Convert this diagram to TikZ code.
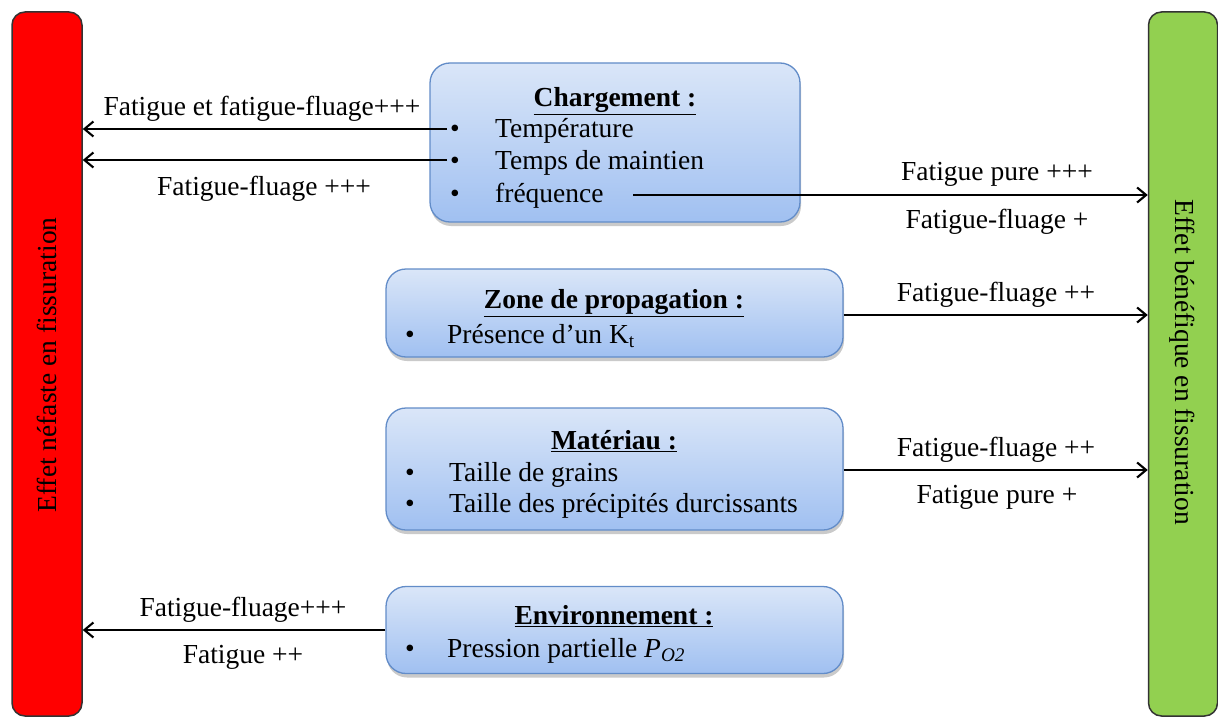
\documentclass[tikz,border=0pt]{standalone}
\usepackage{fontspec}
\setmainfont{Liberation Serif}
\usetikzlibrary{arrows.meta,shadows,positioning}
\definecolor{boxtop}{RGB}{218,230,248}
\definecolor{boxbot}{RGB}{160,192,241}
\definecolor{boxline}{RGB}{98,140,200}
\definecolor{barred}{RGB}{255,0,0}
\definecolor{bargreen}{RGB}{146,208,80}
\tikzset{
  txt/.style={font=\fontsize{27.5}{33}\selectfont, inner sep=0pt},
  infobox/.style={draw=boxline, line width=1.3pt, rounded corners=20pt,
    top color=boxtop, bottom color=boxbot,
    drop shadow={shadow xshift=1pt, shadow yshift=-4pt, opacity=0.35, fill=black!60},
    inner sep=0pt},
  bar/.style={draw=black!80, line width=1.5pt, rounded corners=13pt, inner sep=0pt},
  conn/.style={line width=2.1pt, -{Straight Barb[length=9pt,width=15pt,line width=2.1pt]}},
}
\begin{document}
\begin{tikzpicture}[x=1pt,y=-1pt]
\useasboundingbox (0,0) rectangle (1218,717);
% side bars
\node[bar, fill=barred, minimum width=70pt, minimum height=704pt] (red) at (47,364) {};
\node[bar, fill=bargreen, minimum width=69pt, minimum height=704pt] (green) at (1183,364) {};
\node[txt, rotate=90] (redtxt) at (47,365) {Effet néfaste en fissuration};
\node[txt, rotate=-90] (greentxt) at (1182,362) {Effet bénéfique en fissuration};
% boxes
\node[infobox, minimum width=370pt, minimum height=159pt] (charg) at (615,142.5) {};
\node[infobox, minimum width=457pt, minimum height=88pt] (zone) at (614.5,313) {};
\node[infobox, minimum width=457pt, minimum height=122pt] (mat) at (614.5,469) {};
\node[infobox, minimum width=457pt, minimum height=87pt] (env) at (614.5,630) {};
\begin{scope}[yshift=-6pt]
% Chargement texts
\node[txt, anchor=mid] (chtitle) at (615,98) {\underline{\textbf{Chargement :}}};
\node[txt, anchor=mid] (b1) at (455,129) {•};
\node[txt, anchor=mid] (b2) at (455,161) {•};
\node[txt, anchor=mid] (b3) at (455,194) {•};
\node[txt, anchor=mid west] (t1) at (495,129) {Température};
\node[txt, anchor=mid west] (t2) at (495,161) {Temps de maintien};
\node[txt, anchor=mid west] (t3) at (495,194) {fréquence};
% Zone
\node[txt, anchor=mid] (zotitle) at (614,300) {\underline{\textbf{Zone de propagation :}}};
\node[txt, anchor=mid] (zb1) at (410,335) {•};
\node[txt, anchor=mid west] (zt1) at (447,335) {Présence d’un K\textsubscript{t}};
% Materiau
\node[txt, anchor=mid] (mattitle) at (614,441) {\underline{\textbf{Matériau :}}};
\node[txt, anchor=mid] (mb1) at (410,473) {•};
\node[txt, anchor=mid] (mb2) at (410,504) {•};
\node[txt, anchor=mid west] (mt1) at (449,473) {Taille de grains};
\node[txt, anchor=mid west] (mt2) at (449,504) {Taille des précipités durcissants};
% Environnement
\node[txt, anchor=mid] (envtitle) at (614,616) {\underline{\textbf{Environnement :}}};
\node[txt, anchor=mid] (eb1) at (410,649) {•};
\node[txt, anchor=mid west] (et1) at (447,649) {Pression partielle \textit{P}\textsubscript{\textit{O2}}};
% labels
\node[txt, anchor=mid] (l1) at (262,107) {Fatigue et fatigue-fluage+++};
\node[txt, anchor=mid] (l2) at (264,187) {Fatigue-fluage +++};
\node[txt, anchor=mid] (l3) at (997,172) {Fatigue pure +++};
\node[txt, anchor=mid] (l4) at (997,220) {Fatigue-fluage +};
\node[txt, anchor=mid] (l5) at (996,293) {Fatigue-fluage ++};
\node[txt, anchor=mid] (l6) at (996,448) {Fatigue-fluage ++};
\node[txt, anchor=mid] (l7) at (997,495) {Fatigue pure +};
\node[txt, anchor=mid] (l8) at (243,608) {Fatigue-fluage+++};
\node[txt, anchor=mid] (l9) at (243,655) {Fatigue ++};
\end{scope}
% connector start points
\coordinate (s1) at (447,129);
\coordinate (s2) at (447,160);
\coordinate (s3) at (633,195);
\coordinate (s4) at (zone.east |- 0,315);
\coordinate (s5) at (mat.east |- 0,470);
\coordinate (s6) at (env.west |- 0,630);
\draw[conn] (s1) -- (s1 -| red.east);
\draw[conn] (s2) -- (s2 -| red.east);
\draw[conn] (s3) -- (s3 -| green.west);
\draw[conn] (s4) -- (s4 -| green.west);
\draw[conn] (s5) -- (s5 -| green.west);
\draw[conn] (s6) -- (s6 -| red.east);
\end{tikzpicture}
\end{document}
